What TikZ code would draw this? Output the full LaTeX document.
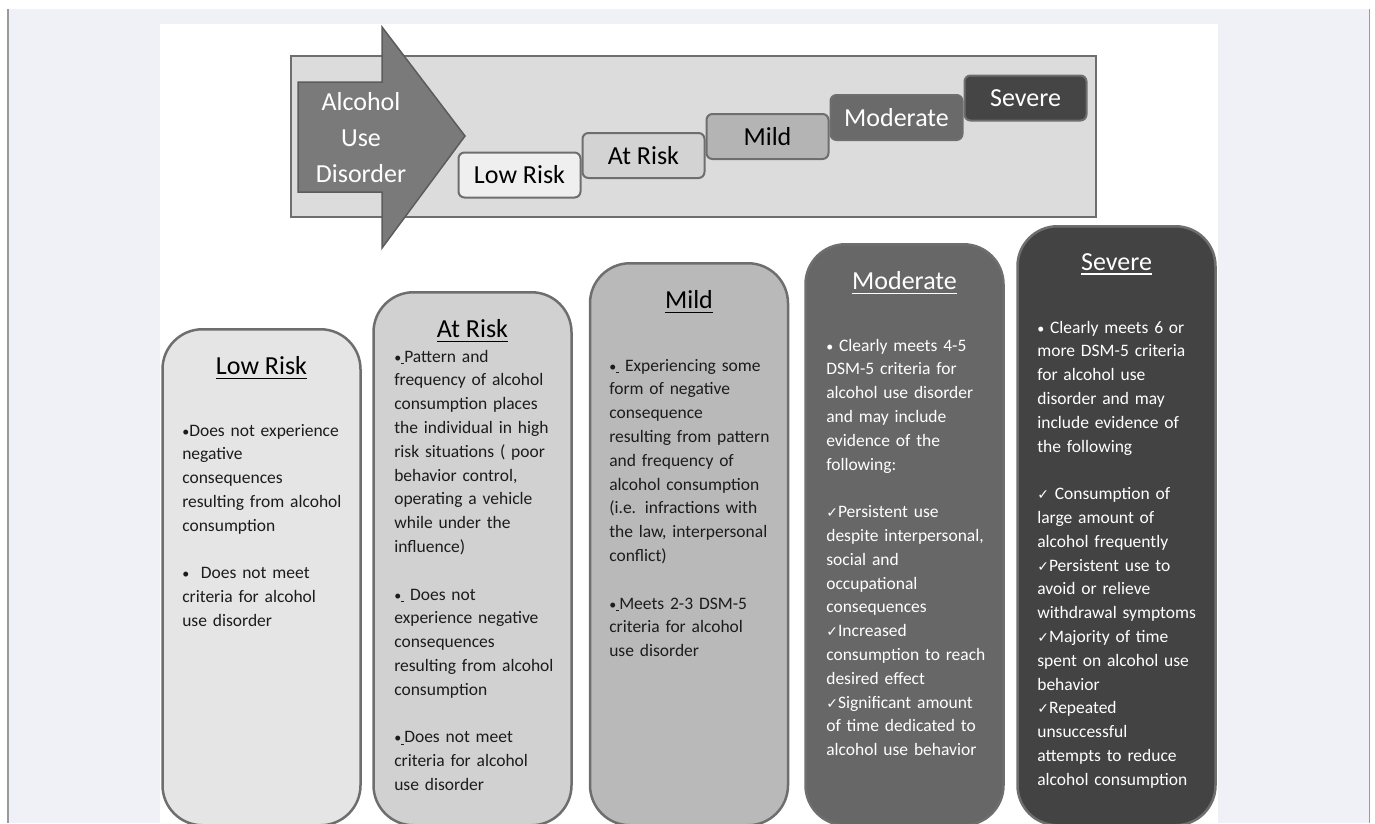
\documentclass[tikz,border=0pt]{standalone}
\usepackage{fontspec}
\setmainfont{Carlito}
\newfontfamily\symfont{DejaVu Sans}
\usetikzlibrary{positioning}

\definecolor{pagebg}{HTML}{F0F1F6}
\definecolor{frameline}{HTML}{9A9A9A}
\definecolor{edge}{HTML}{6E6E6E}
\definecolor{banner}{HTML}{DCDCDC}
\definecolor{arrowfill}{HTML}{7A7A7A}
\definecolor{arrowedge}{HTML}{5C5C5C}
\definecolor{steplow}{HTML}{EFEFEF}
\definecolor{stepat}{HTML}{D3D3D3}
\definecolor{stepmild}{HTML}{B4B4B4}
\definecolor{stepmod}{HTML}{6A6A6A}
\definecolor{stepsev}{HTML}{454545}
\definecolor{lowfill}{HTML}{E5E5E5}
\definecolor{atfill}{HTML}{D1D1D1}
\definecolor{mildfill}{HTML}{B9B9B9}
\definecolor{modfill}{HTML}{676767}
\definecolor{sevfill}{HTML}{434343}
\definecolor{ink}{HTML}{1C1C1C}

\newcommand{\chk}{{\symfont\fontsize{14}{14}\selectfont ✓}}
\newcommand{\bul}{{\fontsize{14}{14}\selectfont\textbullet}}
\newcommand{\ubul}{\bul\underline{\hspace{3pt}}}
\newcommand{\ttl}[1]{\setbox0\hbox{#1}\leavevmode\vtop{\copy0\kern3pt\hrule height 1.5pt width \wd0}}

\begin{document}
\begin{tikzpicture}[x=1pt,y=-1pt,semithick]
  \tikzstyle{stepbox}=[draw=edge,line width=2pt,rounded corners=6pt,minimum width=122pt,minimum height=45pt,inner sep=0pt,font=\fontsize{26}{30}\selectfont]
  \tikzstyle{panel}=[draw=edge,line width=2.5pt,rounded corners=40pt,minimum width=198pt,anchor=north,inner sep=0pt]
  \tikzstyle{title}=[inner sep=0pt,font=\fontsize{26}{30}\selectfont]
  \tikzstyle{body}=[anchor=base west,text width=185pt,align=left,inner sep=0pt,text=ink,font=\fontsize{17.5}{23.8}\selectfont]

  \useasboundingbox (0,0) rectangle (1375,823);
  \fill[white] (0,0) rectangle (1375,823);
  \fill[pagebg] (8,9) rectangle (1370,823);
  \draw[frameline,line width=1.5pt] (8,9) -- (8,823) (1369.5,9) -- (1369.5,823);
  \fill[white] (160,24) rectangle (1218,823);

  % scale of severity
  \draw[fill=banner,draw=edge,line width=2.5pt] (291,56) rectangle (1096,217);
  \draw[fill=arrowfill,draw=arrowedge,line width=1.5pt] (298,82) -- (382,82) -- (382,27) -- (465,136) -- (382,248) -- (382,192) -- (298,192) -- cycle;
  \node (aud) [align=center,text=white,font=\fontsize{26}{36}\selectfont] at (361,138) {Alcohol\\Use\\Disorder};

  \node (lowstep)  [stepbox,fill=steplow] at (519.5,175) {Low Risk};
  \node (atstep)   [stepbox,fill=stepat,right=0pt of lowstep,yshift=19.5pt] {At Risk};
  \node (mildstep) [stepbox,fill=stepmild,right=0pt of atstep,yshift=19pt] {Mild};
  \node (modstep)  [stepbox,fill=stepmod,text=white,minimum width=132pt,right=0pt of mildstep,yshift=19pt] {Moderate};
  \node (sevstep)  [stepbox,fill=stepsev,text=white,right=0pt of modstep,yshift=19.5pt] {Severe};

  % the five columns
  \node (lowbox)  [panel,fill=lowfill,minimum height=496pt] at (261.5,328) {};
  \node (atbox)   [panel,fill=atfill,minimum height=533pt] at (472.5,291) {};
  \node (mildbox) [panel,fill=mildfill,minimum height=562pt] at (689,262) {};
  \node (modbox)  [panel,fill=modfill,minimum height=581pt] at (904.5,243) {};
  \node (sevbox)  [panel,fill=sevfill,minimum height=599pt] at (1116.5,225) {};

  \node (lowtitle)  [title,below=28pt of lowbox.north] {\ttl{Low Risk}};
  \node (attitle)   [title,below=28pt of atbox.north] {\ttl{At Risk}};
  \node (mildtitle) [title,below=28pt of mildbox.north] {\ttl{Mild}};
  \node (modtitle)  [title,text=white,below=28pt of modbox.north] {\ttl{Moderate}};
  \node (sevtitle)  [title,text=white,below=28pt of sevbox.north] {\ttl{Severe}};

  \node (lowtext) [body] at (182,436) {\bul Does not experience\\
    negative\\ consequences\\ resulting from alcohol\\ consumption\\[23.8pt]
    \bul\ \ Does not meet\\ criteria for alcohol\\ use disorder};
  \node (attext) [body] at (394,362) {\ubul Pattern and\\ frequency of alcohol\\
    consumption places\\ the individual in high\\ risk situations ( poor\\
    behavior control,\\ operating a vehicle\\ while under the\\ influence)\\[23.8pt]
    \ubul\ Does not\\ experience negative\\ consequences\\ resulting from alcohol\\
    consumption\\[23.8pt]
    \ubul Does not meet\\ criteria for alcohol\\ use disorder};
  \node (mildtext) [body] at (609,371) {\ubul\ Experiencing some\\ form of negative\\
    consequence\\ resulting from pattern\\ and frequency of\\ alcohol consumption\\
    (i.e. infractions with\\ the law, interpersonal\\ conflict)\\[23.8pt]
    \ubul Meets 2-3 DSM-5\\ criteria for alcohol\\ use disorder};
  \node (modtext) [body,text=white] at (826,351) {\bul\ Clearly meets 4-5\\
    DSM-5 criteria for\\ alcohol use disorder\\ and may include\\ evidence of the\\
    following:\\[23.8pt]
    \chk Persistent use\\ despite interpersonal,\\ social and\\ occupational\\
    consequences\\ \chk Increased\\ consumption to reach\\ desired effect\\
    \chk Significant amount\\ of time dedicated to\\ alcohol use behavior};
  \node (sevtext) [body,text=white] at (1037,333) {\bul\ Clearly meets 6 or\\
    more DSM-5 criteria\\ for alcohol use\\ disorder and may\\ include evidence of\\
    the following\\[23.8pt]
    \chk\ Consumption of\\ large amount of\\ alcohol frequently\\
    \chk Persistent use to\\ avoid or relieve\\ withdrawal symptoms\\
    \chk Majority of time\\ spent on alcohol use\\ behavior\\ \chk Repeated\\
    unsuccessful\\ attempts to reduce\\ alcohol consumption};
\end{tikzpicture}
\end{document}
